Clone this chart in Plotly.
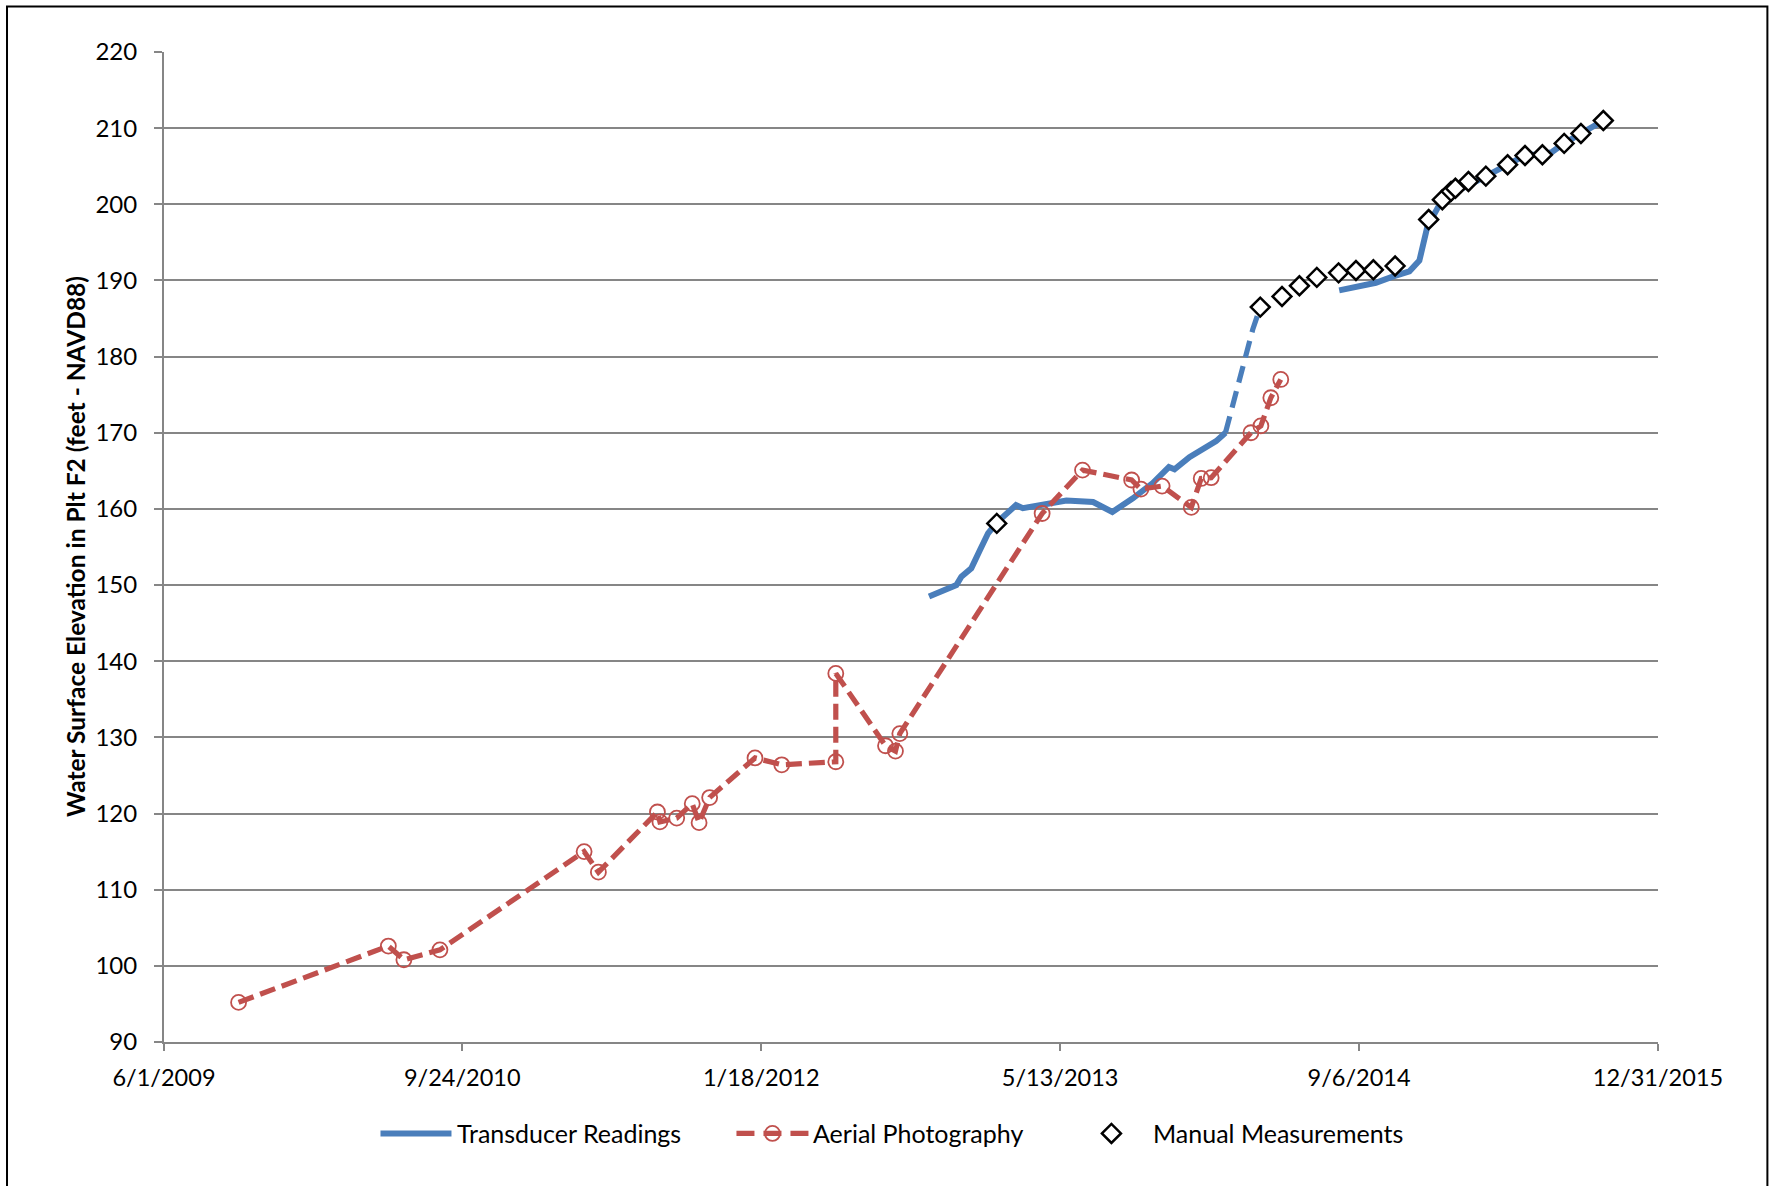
import plotly.graph_objects as go

# ---------------- data ----------------
tick_dates = ["2009-06-01", "2010-09-24", "2012-01-18", "2013-05-13", "2014-09-06", "2015-12-31"]
tick_labels = ["6/1/2009", "9/24/2010", "1/18/2012", "5/13/2013", "9/6/2014", "12/31/2015"]

trans1_dates = ["2012-10-14", "2012-11-27", "2012-12-05", "2012-12-21", "2013-01-04", "2013-01-17",
                "2013-01-31", "2013-03-03", "2013-03-14", "2013-04-15", "2013-05-23", "2013-07-05",
                "2013-08-05", "2013-09-07", "2013-10-09", "2013-11-04", "2013-11-13", "2013-12-07",
                "2013-12-29", "2014-01-19", "2014-02-03"]
trans1_elev = [148.5, 150.0, 151.1, 152.2, 154.6, 156.8,
               158.2, 160.5, 160.1, 160.5, 161.1, 160.9,
               159.6, 161.4, 163.4, 165.5, 165.2, 166.8,
               167.8, 168.9, 170.0]

trans_gap_dates = ["2014-02-03", "2014-02-16", "2014-03-03", "2014-03-19", "2014-03-31"]
trans_gap_elev = [170.0, 174.0, 179.1, 183.6, 186.5]

trans2_dates = ["2014-08-05", "2014-10-03", "2014-10-30", "2014-11-26", "2014-12-12", "2014-12-25",
                "2015-01-13", "2015-01-29", "2015-02-25", "2015-03-29", "2015-05-03", "2015-06-02",
                "2015-06-28", "2015-07-14", "2015-08-02", "2015-08-29", "2015-10-04"]
trans2_elev = [188.7, 189.7, 190.5, 191.2, 192.6, 197.1,
               199.9, 201.5, 202.3, 203.6, 205.2, 206.5,
               206.5, 206.9, 208.0, 209.3, 211.0]

aerial_dates = ["2009-09-29", "2010-05-28", "2010-06-22", "2010-08-19", "2011-04-08", "2011-05-01",
                "2011-08-04", "2011-08-08", "2011-09-04", "2011-09-29", "2011-10-10", "2011-10-27",
                "2012-01-08", "2012-02-20", "2012-05-17", "2012-05-17", "2012-08-05", "2012-08-21",
                "2012-08-28", "2013-04-14", "2013-06-18", "2013-09-05", "2013-09-20", "2013-10-24",
                "2013-12-10", "2013-12-26", "2014-01-11", "2014-03-16", "2014-04-01", "2014-04-17",
                "2014-05-03"]
aerial_elev = [95.2, 102.6, 100.8, 102.1, 115.0, 112.3,
               120.2, 118.9, 119.4, 121.3, 118.8, 122.1,
               127.3, 126.4, 126.8, 138.4, 128.9, 128.2,
               130.5, 159.4, 165.1, 163.8, 162.6, 163.0,
               160.2, 164.0, 164.1, 170.0, 170.9, 174.6,
               177.0]

manual_dates = ["2013-01-31", "2014-03-31", "2014-05-05", "2014-06-02", "2014-06-30", "2014-08-04",
                "2014-09-01", "2014-09-29", "2014-11-03", "2014-12-27", "2015-01-18", "2015-02-01",
                "2015-02-08", "2015-03-01", "2015-03-29", "2015-05-03", "2015-05-31", "2015-06-28",
                "2015-08-02", "2015-08-29", "2015-10-04"]
manual_elev = [158.1, 186.5, 187.9, 189.3, 190.4, 191.0,
               191.3, 191.4, 191.9, 198.0, 200.6, 201.7,
               202.1, 203.0, 203.7, 205.2, 206.4, 206.5,
               208.0, 209.3, 211.0]

series_names = ["Transducer Readings", "Aerial Photography", "Manual Measurements"]
y_title = "Water Surface Elevation in Plt F2 (feet - NAVD88)"

# ---------------- styling ----------------
BLUE = "#4A7EBB"
RED = "#C0504D"
GRID = "#868686"
FONT = "Lato"
W, H = 1773, 1186
# plot-area edges in page pixels
PL, PR, PT, PB = 163.5, 1657.6, 52.0, 1042.5


def px(x):
    return (x - PL) / (PR - PL)


def py(y):
    return (PB - y) / (PB - PT)


fig = go.Figure()
fig.add_trace(go.Scatter(x=trans1_dates, y=trans1_elev, mode="lines", name=series_names[0],
                         line=dict(color=BLUE, width=6), showlegend=False))
fig.add_trace(go.Scatter(x=trans_gap_dates, y=trans_gap_elev, mode="lines", name=series_names[0],
                         line=dict(color=BLUE, width=5.2, dash="17px,9px"), showlegend=False))
fig.add_trace(go.Scatter(x=trans2_dates, y=trans2_elev, mode="lines", name=series_names[0],
                         line=dict(color=BLUE, width=6), showlegend=False))
fig.add_trace(go.Scatter(x=aerial_dates, y=aerial_elev, mode="lines+markers", name=series_names[1],
                         line=dict(color=RED, width=5.2, dash="16px,7px"),
                         marker=dict(symbol="circle-open", size=15, color=RED, line=dict(width=1.8, color=RED)),
                         showlegend=False))
fig.add_trace(go.Scatter(x=manual_dates, y=manual_elev, mode="markers", name=series_names[2],
                         marker=dict(symbol="diamond", size=14.5, color="white",
                                     line=dict(color="black", width=2.5)),
                         showlegend=False))

fig.update_xaxes(type="date", range=["2009-06-01", "2015-12-31"], tickvals=tick_dates, ticktext=tick_labels,
                 showgrid=False, zeroline=False, showline=True, linecolor=GRID, linewidth=2,
                 ticks="outside", ticklen=7, tickwidth=2, tickcolor=GRID, ticklabelstandoff=7,
                 tickfont=dict(family=FONT, size=23.5, color="black"))
fig.update_yaxes(range=[90, 220], tick0=90, dtick=10, showgrid=True, gridcolor=GRID, gridwidth=2,
                 zeroline=False, showline=True, linecolor=GRID, linewidth=2,
                 ticks="outside", ticklen=8, tickwidth=2, tickcolor=GRID, ticklabelstandoff=12,
                 tickfont=dict(family=FONT, size=24, color="black"))

LY = 1134
shapes = [
    # outer chart frame (bottom edge falls outside the picture)
    dict(type="rect", xref="paper", yref="paper", x0=px(6.5), x1=px(1767), y0=py(1400), y1=py(6.5),
         line=dict(color="black", width=2), fillcolor="rgba(0,0,0,0)", layer="above"),
    # legend samples
    dict(type="line", xref="paper", yref="paper", x0=px(380), x1=px(451), y0=py(LY), y1=py(LY),
         line=dict(color=BLUE, width=6)),
    dict(type="line", xref="paper", yref="paper", x0=px(736), x1=px(808), y0=py(LY), y1=py(LY),
         line=dict(color=RED, width=5.2, dash="18px,9px")),
    dict(type="circle", xref="paper", yref="paper", xsizemode="pixel", ysizemode="pixel",
         xanchor=px(772), yanchor=py(LY), x0=-7.5, x1=7.5, y0=-7.5, y1=7.5,
         line=dict(color=RED, width=1.8)),
    dict(type="path", xref="paper", yref="paper", xsizemode="pixel", ysizemode="pixel",
         xanchor=px(1111), yanchor=py(LY), path="M -9.5 0 L 0 9.5 L 9.5 0 L 0 -9.5 Z",
         fillcolor="white", line=dict(color="black", width=2.5)),
]

annotations = [
    dict(text="<b>" + y_title + "</b>", xref="paper", yref="paper", x=px(74.6), y=0.5,
         textangle=-90, showarrow=False, xanchor="center", yanchor="middle",
         font=dict(family=FONT, size=24.5, color="black")),
    dict(text=series_names[0], xref="paper", yref="paper", x=px(455), y=py(LY), showarrow=False,
         xanchor="left", yanchor="middle", font=dict(family=FONT, size=25, color="black")),
    dict(text=series_names[1], xref="paper", yref="paper", x=px(811), y=py(LY), showarrow=False,
         xanchor="left", yanchor="middle", font=dict(family=FONT, size=25, color="black")),
    dict(text=series_names[2], xref="paper", yref="paper", x=px(1151), y=py(LY), showarrow=False,
         xanchor="left", yanchor="middle", font=dict(family=FONT, size=25, color="black")),
]

fig.update_layout(width=W, height=H, autosize=False,
                  margin=dict(l=PL, r=W - PR, t=PT, b=H - PB, pad=0),
                  paper_bgcolor="white", plot_bgcolor="white",
                  font=dict(family=FONT, size=24, color="black"),
                  showlegend=False, shapes=shapes, annotations=annotations)

# remove the page's default body margin so the figure sits at the window origin
fig.write_html("out.html", config={"displayModeBar": False, "staticPlot": True},
               post_script="document.body.style.margin='0px';document.body.style.overflow='hidden';")
